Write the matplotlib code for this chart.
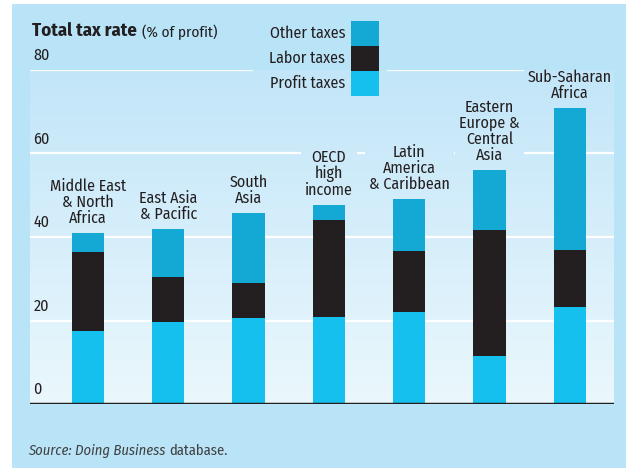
import numpy as np
import matplotlib.pyplot as plt

regions = ["Middle East\n& North\nAfrica", "East Asia\n& Pacific", "South\nAsia",
           "OECD\nhigh\nincome", "Latin\nAmerica\n& Caribbean",
           "Eastern\nEurope &\nCentral\nAsia", "Sub-Saharan\nAfrica"]
profit = [17.5, 19.6, 20.6, 20.8, 22.0, 11.5, 23.2]
labor = [19.0, 10.8, 8.4, 23.3, 14.6, 30.2, 13.7]
other = [4.4, 11.5, 16.7, 3.6, 12.5, 14.3, 34.0]
yticks = [0, 20, 40, 60, 80]

plt.rcParams['font.family'] = ['Fira Sans Condensed', 'DejaVu Sans']

c_profit = '#15c0ef'
c_labor = '#231f20'
c_other = '#14a9d5'
panel = '#b9e4f8'
top_c = np.array([0.76, 0.90, 0.975])
bot_c = np.array([0.92, 0.97, 0.99])
ink = '#231f20'

fig = plt.figure(figsize=(6.26, 4.68), dpi=100)
fig.patch.set_facecolor('white')
bg = fig.add_axes([12/626, 0, 1, 1 - 4/468], zorder=-10)
bg.axis('off')
bg.add_patch(plt.Rectangle((0, 0), 1, 1, transform=bg.transAxes, facecolor=panel, edgecolor='none'))

ax = fig.add_axes([30/626, 64/468, 584/626, 334/468])
ax.set_facecolor('none')
x = np.arange(len(regions))
xlim = (-0.72, 6.55)
ax.set_xlim(xlim)
ax.set_ylim(0, 80)

# vertical gradient behind the bars
t = np.linspace(0, 1, 256)[:, None]
grad = bot_c * (1 - t[..., None]) + top_c * t[..., None]
grad = np.repeat(grad, 2, axis=1)
ax.imshow(grad, extent=(xlim[0], xlim[1], 0, 80), origin='lower', aspect='auto', zorder=0)

for v in yticks:
    ax.text(xlim[0] + 0.04, v + 1.6, str(v), fontsize=11.5, color=ink,
            va='bottom', ha='left', zorder=2)

w = 0.4
b2 = np.array(profit) + np.array(labor)
ax.bar(x, profit, w, color=c_profit, zorder=3)
ax.bar(x, labor, w, bottom=profit, color=c_labor, zorder=3)
ax.bar(x, other, w, bottom=b2, color=c_other, zorder=3)
ax.axhline(0, color=ink, lw=2.5, zorder=4)

tot = b2 + np.array(other)
labels = []
for xi, ti, name in zip(x, tot, regions):
    labels.append(ax.annotate(name, (xi, ti), xytext=(0, 5), textcoords='offset points',
                              ha='center', va='bottom', fontsize=11.5, color=ink,
                              linespacing=1.0, zorder=5, annotation_clip=False))

for sp in ax.spines.values():
    sp.set_visible(False)
ax.set_xticks([])
ax.set_yticks([])

# legend and captions in pixel coordinates
ax_l = fig.add_axes([0, 0, 1, 1], facecolor='none')
ax_l.set_xlim(0, 626)
ax_l.set_ylim(468, 0)
ax_l.axis('off')
leg = [("Other taxes", c_other), ("Labor taxes", c_labor), ("Profit taxes", c_profit)]
for i, (lab, col) in enumerate(leg):
    y0 = 21 + i * 25
    ax_l.add_patch(plt.Rectangle((351, y0), 28, 25, facecolor=col, edgecolor='none'))
    ax_l.text(345, y0 + 12.5, lab, ha='right', va='center', fontsize=11.5, color=ink)

t1 = ax_l.text(32, 36, "Total tax rate", fontsize=13.5, fontweight='bold', color=ink,
               ha='left', va='baseline')
ax_l.annotate("(% of profit)", xy=(1, 0), xycoords=t1, xytext=(4, 0),
              textcoords='offset points', fontsize=11, color=ink, ha='left', va='bottom')
s1 = ax_l.text(28, 455, "Source: Doing Business", fontsize=10.5, style='italic', color='#404040',
               ha='left', va='baseline')
ax_l.annotate("database.", xy=(1, 0), xycoords=s1, xytext=(3, 0),
              textcoords='offset points', fontsize=10.5, color='#404040', ha='left', va='bottom')

# white gridlines, broken where a label or the legend sits on them
fig.canvas.draw()
r = fig.canvas.get_renderer()
inv = ax.transData.inverted()
legend_px = ax_l.transData.transform([(253, 0), (387, 0)])[:, 0]
for v in yticks[1:]:
    yd = ax.transData.transform((0, v))[1]
    gaps = []
    for a in labels:
        bb = a.get_window_extent(r)
        if bb.y0 - 3 <= yd <= bb.y1 + 3:
            gaps.append((bb.x0 - 4, bb.x1 + 4))
    if v == 80:
        gaps.append(tuple(legend_px))
    gaps = sorted((inv.transform((g0, yd))[0], inv.transform((g1, yd))[0]) for g0, g1 in gaps)
    start = xlim[0]
    for g0, g1 in gaps:
        if g0 > start:
            ax.hlines(v, start, g0, color='white', lw=1.6, zorder=1)
        start = max(start, g1)
    if start < xlim[1]:
        ax.hlines(v, start, xlim[1], color='white', lw=1.6, zorder=1)

fig.savefig('out.png', dpi=100)
